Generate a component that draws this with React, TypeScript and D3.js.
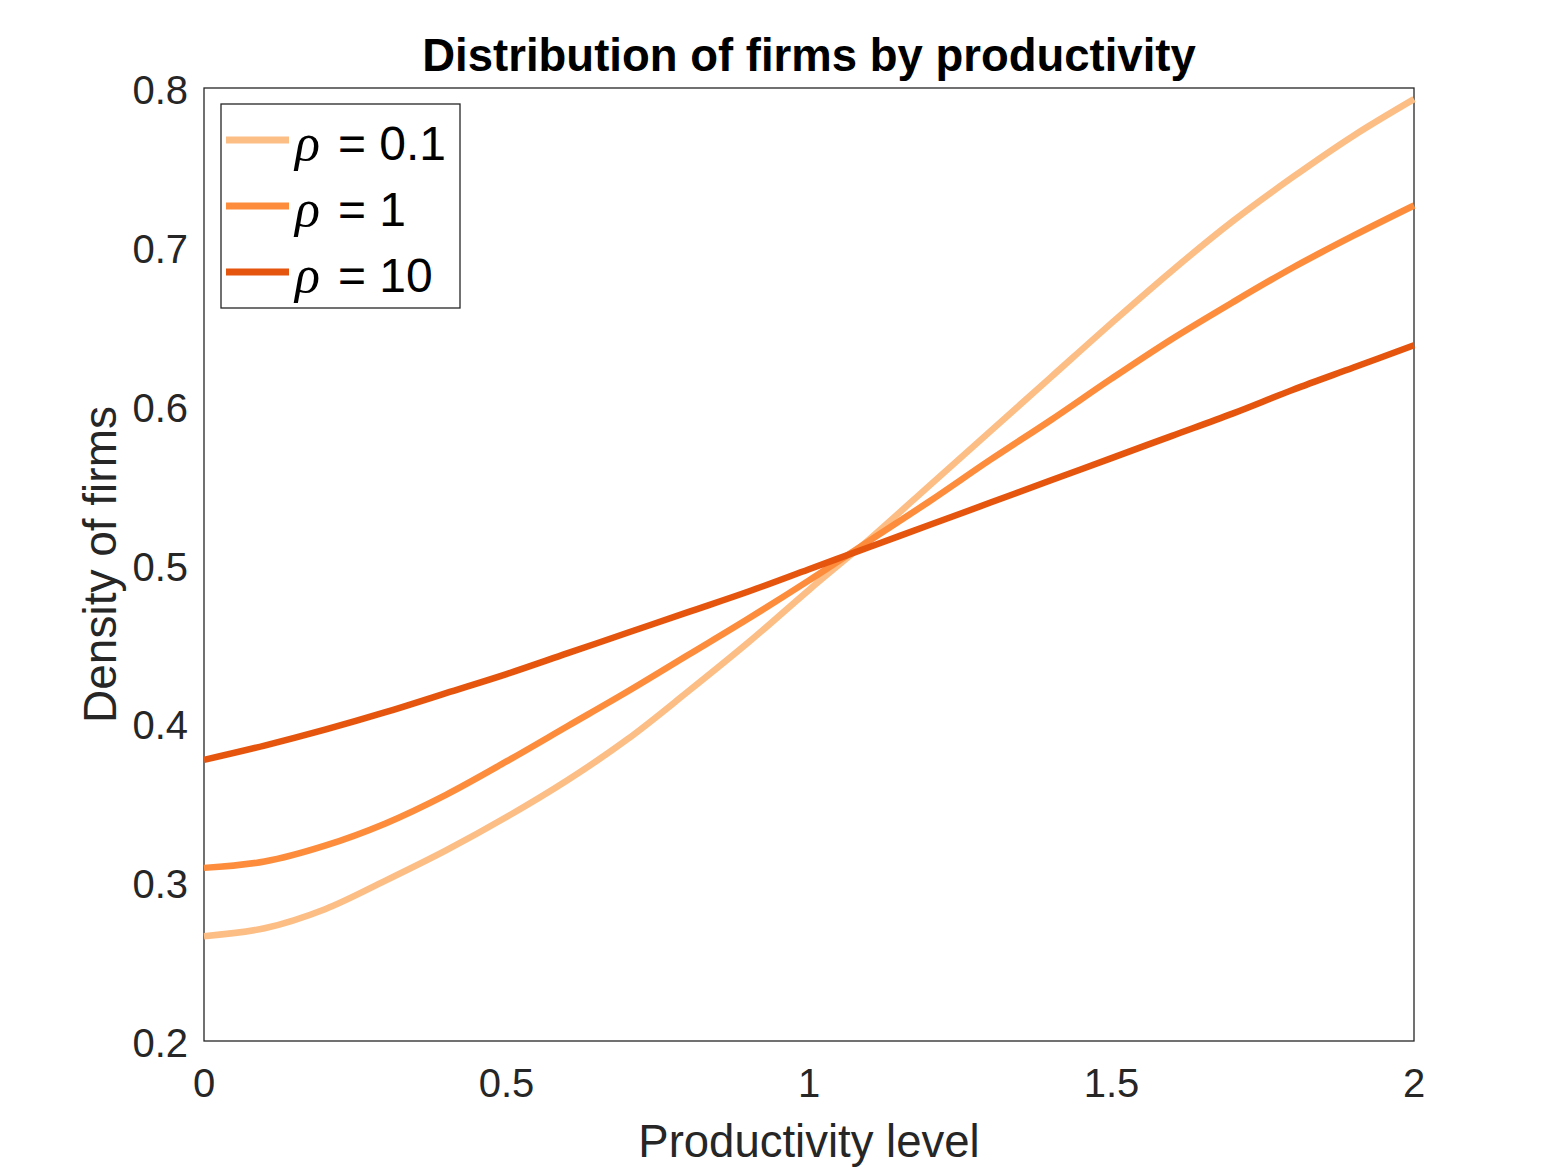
import React, { useEffect, useRef } from 'react';
import * as d3 from 'd3';

// productivity grid and densities
const productivity = [0, 0.1, 0.2, 0.3, 0.4, 0.5, 0.6, 0.7, 0.8, 0.9, 1.0, 1.1, 1.2, 1.3, 1.4, 1.5, 1.6, 1.7, 1.8, 1.9, 2.0];
const rho01 = [0.266, 0.271, 0.283, 0.301, 0.320, 0.341, 0.364, 0.390, 0.420, 0.451, 0.484, 0.516, 0.550, 0.584, 0.618, 0.652, 0.685, 0.716, 0.744, 0.770, 0.793];
const rho1 = [0.309, 0.313, 0.323, 0.337, 0.355, 0.376, 0.398, 0.420, 0.443, 0.466, 0.490, 0.515, 0.540, 0.566, 0.591, 0.617, 0.642, 0.665, 0.687, 0.707, 0.726];
const rho10 = [0.377, 0.386, 0.396, 0.407, 0.419, 0.431, 0.444, 0.457, 0.470, 0.483, 0.497, 0.511, 0.525, 0.539, 0.553, 0.567, 0.581, 0.595, 0.610, 0.624, 0.638];

const seriesLabels = ['0.1', '1', '10'];
const seriesColors = ['#fdbe85', '#fd8d3c', '#e6550d'];
const xTicks = [0, 0.5, 1, 1.5, 2];
const yTicks = [0.2, 0.3, 0.4, 0.5, 0.6, 0.7, 0.8];

const W = 1563;
const H = 1172;
const FONT = '"Liberation Sans", Arial, Helvetica, sans-serif';

export default function App() {
  const svgRef = useRef<SVGSVGElement>(null);

  useEffect(() => {
    if (!svgRef.current) return;
    const svg = d3.select(svgRef.current);
    svg.selectAll('*').remove();

    const left = 204, right = 1414, top = 88, bottom = 1041;
    const x = d3.scaleLinear().domain([0, 2]).range([left, right]);
    const y = d3.scaleLinear().domain([0.2, 0.8]).range([bottom, top]);

    svg.append('rect').attr('width', W).attr('height', H).attr('fill', '#fff');

    // axes box
    svg.append('rect')
      .attr('x', left).attr('y', top)
      .attr('width', right - left).attr('height', bottom - top)
      .attr('fill', '#fff')
      .attr('stroke', '#262626')
      .attr('stroke-width', 1.3);

    // curves
    const series = [rho01, rho1, rho10];
    const line = d3.line<number>()
      .x((_, i) => x(productivity[i]))
      .y((d) => y(d))
      .curve(d3.curveCatmullRom.alpha(0.5));

    series.forEach((s, i) => {
      svg.append('path')
        .datum(s)
        .attr('d', line)
        .attr('fill', 'none')
        .attr('stroke', seriesColors[i])
        .attr('stroke-width', 6.5);
    });

    // tick labels
    svg.append('g').selectAll('text')
      .data(xTicks)
      .enter()
      .append('text')
      .attr('x', (d) => x(d))
      .attr('y', bottom + 56)
      .attr('text-anchor', 'middle')
      .attr('font-family', FONT)
      .attr('font-size', 40)
      .attr('fill', '#262626')
      .text((d) => String(d));

    svg.append('g').selectAll('text')
      .data(yTicks)
      .enter()
      .append('text')
      .attr('x', left - 16)
      .attr('y', (d) => y(d) + 16)
      .attr('text-anchor', 'end')
      .attr('font-family', FONT)
      .attr('font-size', 40)
      .attr('fill', '#262626')
      .text((d) => d.toFixed(1));

    // axis labels + title
    svg.append('text')
      .attr('x', (left + right) / 2)
      .attr('y', 1157)
      .attr('text-anchor', 'middle')
      .attr('font-family', FONT)
      .attr('font-size', 45.5)
      .attr('fill', '#262626')
      .text('Productivity level');

    svg.append('text')
      .attr('transform', `translate(116,${(top + bottom) / 2}) rotate(-90)`)
      .attr('text-anchor', 'middle')
      .attr('font-family', FONT)
      .attr('font-size', 46)
      .attr('fill', '#262626')
      .text('Density of firms');

    svg.append('text')
      .attr('x', (left + right) / 2)
      .attr('y', 71)
      .attr('text-anchor', 'middle')
      .attr('font-family', FONT)
      .attr('font-size', 45.5)
      .attr('font-weight', 'bold')
      .attr('fill', '#000')
      .text('Distribution of firms by productivity');

    // legend
    const legend = svg.append('g');
    legend.append('rect')
      .attr('x', 221).attr('y', 104)
      .attr('width', 239).attr('height', 204)
      .attr('fill', '#fff')
      .attr('stroke', '#262626')
      .attr('stroke-width', 1.3);

    seriesLabels.forEach((lab, i) => {
      const ly = 140 + i * 66;
      legend.append('line')
        .attr('x1', 226).attr('x2', 289)
        .attr('y1', ly).attr('y2', ly)
        .attr('stroke', seriesColors[i])
        .attr('stroke-width', 7);

      const t = legend.append('text')
        .attr('x', 295)
        .attr('y', ly + 20)
        .attr('font-family', FONT)
        .attr('font-size', 48)
        .attr('fill', '#000');
      t.append('tspan')
        .attr('font-family', '"Liberation Serif", "Times New Roman", serif')
        .attr('font-style', 'italic')
        .attr('font-size', 52)
        .text('ρ');
      t.append('tspan')
        .attr('dx', 18)
        .text(`= ${lab}`);
    });
  }, []);

  return (
    <svg
      ref={svgRef}
      width={W}
      height={H}
      style={{ position: 'absolute', left: 0, top: 0, display: 'block' }}
    />
  );
}
